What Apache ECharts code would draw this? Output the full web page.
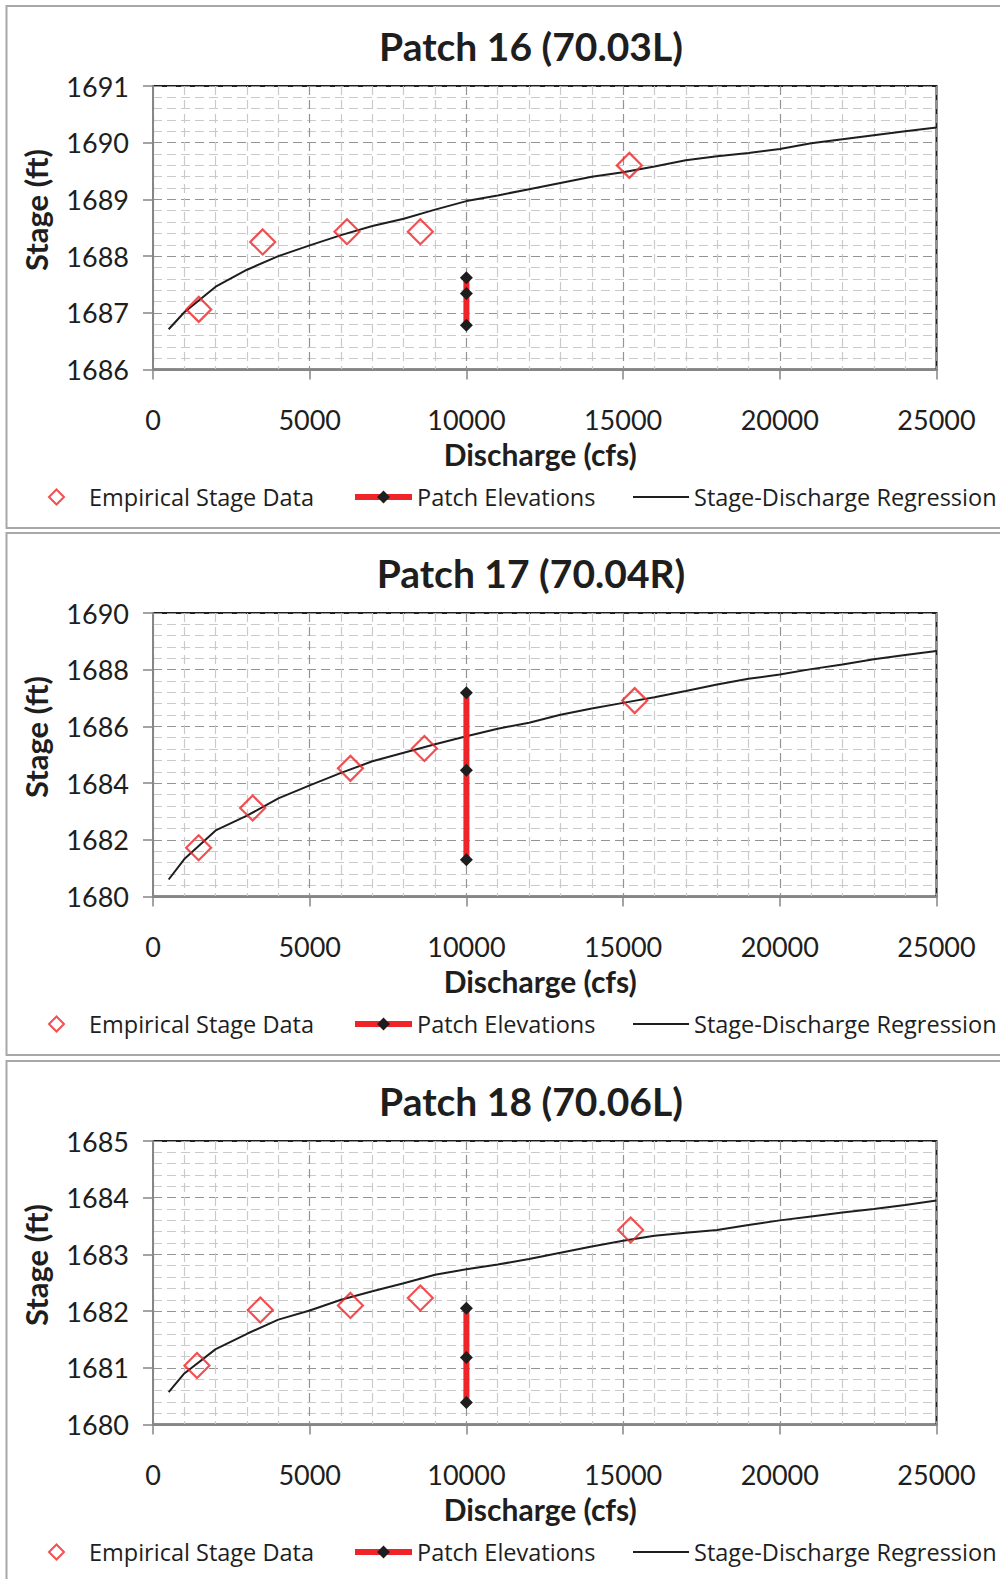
<!DOCTYPE html>
<html>
<head>
<meta charset="utf-8">
<script src="https://cdn.jsdelivr.net/npm/echarts@6/dist/echarts.min.js"></script>
<style>
  html, body { margin: 0; padding: 0; background: #fff; }
  #chart { width: 1000px; height: 1579px; }
</style>
</head>
<body>
<div id="chart"></div>
<script>
// ---------- DATA ----------
const titles = ['Patch 16 (70.03L)', 'Patch 17 (70.04R)', 'Patch 18 (70.06L)'];
const xTicksMin = 0, xTicksMax = 25000, xTickStep = 5000;
const yMins = [1686, 1680, 1680];
const yMaxs = [1691, 1690, 1685];
const ySteps = [1, 2, 1];

const patchX = 10000;

const empX16 = [1460, 3500, 6190, 8530, 15200];
const empY16 = [1687.06, 1688.25, 1688.43, 1688.43, 1689.60];
const patchY16 = [1687.62, 1687.34, 1686.78];

const empX17 = [1456, 3180, 6300, 8660, 15370];
const empY17 = [1681.72, 1683.12, 1684.52, 1685.22, 1686.91];
const patchY17 = [1687.19, 1684.45, 1681.30];

const empX18 = [1404, 3425, 6300, 8530, 15240];
const empY18 = [1681.04, 1682.02, 1682.10, 1682.23, 1683.43];
const patchY18 = [1682.05, 1681.18, 1680.39];

const regX = [500, 1000, 2000, 3000, 4000, 5000, 6000, 7000, 8000, 9000, 10000, 11000, 12000, 13000,
              14000, 15000, 16000, 17000, 18000, 19000, 20000, 21000, 22000, 23000, 24000, 25000];
const regY16 = [1686.71, 1687.01, 1687.46, 1687.76, 1688.00, 1688.19, 1688.37, 1688.53, 1688.66, 1688.82,
                1688.97, 1689.07, 1689.18, 1689.29, 1689.40, 1689.48, 1689.58, 1689.69, 1689.76, 1689.82,
                1689.89, 1689.99, 1690.06, 1690.13, 1690.20, 1690.27];
const regY17 = [1680.60, 1681.32, 1682.33, 1682.85, 1683.46, 1683.92, 1684.36, 1684.77, 1685.07, 1685.37,
                1685.65, 1685.92, 1686.13, 1686.41, 1686.63, 1686.83, 1687.03, 1687.25, 1687.48, 1687.68,
                1687.83, 1688.02, 1688.18, 1688.37, 1688.52, 1688.66];
const regY18 = [1680.57, 1680.90, 1681.33, 1681.60, 1681.85, 1682.01, 1682.20, 1682.35, 1682.49, 1682.64,
                1682.74, 1682.82, 1682.92, 1683.03, 1683.14, 1683.24, 1683.33, 1683.38, 1683.43, 1683.52,
                1683.60, 1683.67, 1683.74, 1683.80, 1683.87, 1683.95];

const seriesNames = ['Empirical Stage Data', 'Patch Elevations', 'Stage-Discharge Regression'];
const xName = 'Discharge (cfs)';
const yName = 'Stage (ft)';

// ---------- BUILD ----------
const empX = [empX16, empX17, empX18];
const empY = [empY16, empY17, empY18];
const patchY = [patchY16, patchY17, patchY18];
const regY = [regY16, regY17, regY18];

const RED = '#ee2428';
const DARK = '#1e1e1e';
const FONT = 'Lato, "Noto Sans", sans-serif';
const LFONT = '"Open Sans", Lato, sans-serif';
const offsets = [0, 527, 1055];
const plain = v => String(v);

const grids = [], xAxes = [], yAxes = [], series = [], titleOpts = [], legends = [], graphics = [];

offsets.forEach((o, i) => {
  graphics.push({
    type: 'rect', silent: true, z: -10,
    shape: { x: 6.5, y: 6 + o, width: 1010, height: 522 },
    style: { fill: '#fff', stroke: '#a8a8a8', lineWidth: 2 }
  });
  graphics.push({
    type: 'text', silent: true,
    x: 36, y: 210 + o, rotation: Math.PI / 2,
    style: { text: yName, align: 'center', verticalAlign: 'middle',
             font: 'bold 31px ' + FONT, fill: DARK }
  });
  titleOpts.push({
    text: titles[i], left: 531, top: 46 + o, textAlign: 'center', textVerticalAlign: 'middle',
    padding: 0,
    textStyle: { fontFamily: FONT, fontWeight: 'bold', fontSize: 39, color: DARK }
  });
  grids.push({ left: 153, top: 86 + o, width: 783.5, height: 283.5,
               show: true, borderColor: DARK, borderWidth: 2, backgroundColor: 'transparent' });
  xAxes.push({
    type: 'value', gridIndex: i, min: xTicksMin, max: xTicksMax, interval: xTickStep,
    name: xName, nameLocation: 'middle', nameGap: 69,
    nameTextStyle: { fontFamily: FONT, fontWeight: 'bold', fontSize: 30, color: DARK, padding: [0, 9, 0, 0] },
    axisLine: { onZero: false, lineStyle: { color: '#868686', width: 2 } },
    axisTick: { show: true, length: 10, lineStyle: { color: '#868686', width: 1.5 } },
    axisLabel: { margin: 36, fontFamily: FONT, fontSize: 27, color: DARK, formatter: plain },
    splitLine: { show: true, lineStyle: { color: '#949494', width: 1.2, type: [9, 5] } },
    minorTick: { show: false, splitNumber: 5 },
    minorSplitLine: { show: true, lineStyle: { color: '#cacaca', width: 1.2, type: [9, 5] } }
  });
  yAxes.push({
    type: 'value', gridIndex: i, min: yMins[i], max: yMaxs[i], interval: ySteps[i],
    axisLine: { show: true, onZero: false, lineStyle: { color: '#868686', width: 2 } },
    axisTick: { show: true, length: 10, lineStyle: { color: '#868686', width: 1.5 } },
    axisLabel: { margin: 24, fontFamily: FONT, fontSize: 27, color: DARK, formatter: plain },
    splitLine: { show: true, lineStyle: { color: '#949494', width: 1.2, type: [9, 5] } },
    minorTick: { show: false, splitNumber: 5 },
    minorSplitLine: { show: true, lineStyle: { color: '#cacaca', width: 1.2, type: [9, 5] } }
  });
  series.push({
    name: seriesNames[2], type: 'line', xAxisIndex: i, yAxisIndex: i,
    data: regX.map((x, k) => [x, regY[i][k]]),
    symbol: 'none', smooth: false, z: 3,
    lineStyle: { color: DARK, width: 2 }, itemStyle: { color: DARK }
  });
  series.push({
    name: seriesNames[0], type: 'scatter', xAxisIndex: i, yAxisIndex: i,
    data: empX[i].map((x, k) => [x, empY[i][k]]),
    symbol: 'diamond', symbolSize: 25, z: 4,
    itemStyle: { color: 'rgba(255,255,255,0)', borderColor: RED, borderWidth: 2.2 }
  });
  series.push({
    name: seriesNames[1], type: 'line', xAxisIndex: i, yAxisIndex: i,
    data: patchY[i].map(y => [patchX, y]),
    symbol: 'diamond', symbolSize: 13, showAllSymbol: true, z: 5,
    lineStyle: { color: RED, width: 6 }, itemStyle: { color: DARK }
  });
  const ly = 497 + o;
  const ts = { fontFamily: LFONT, fontSize: 23.5, lineHeight: 24, color: DARK };
  legends.push({
    data: [seriesNames[0]], left: 48, top: ly - 12, itemWidth: 15, itemHeight: 15, padding: 0,
    selectedMode: false, textStyle: Object.assign({}, ts, { padding: [0, 0, 0, 20] }),
    itemStyle: { color: 'rgba(255,255,255,0)', borderColor: RED, borderWidth: 2 }
  });
  legends.push({
    data: [seriesNames[1]], left: 352, top: ly - 12, itemWidth: 57, itemHeight: 16, padding: 0,
    selectedMode: false, textStyle: ts,
    lineStyle: { color: RED, width: 6 }, itemStyle: { color: DARK }
  });
  legends.push({
    data: [{ name: seriesNames[2], icon: 'rect' }], left: 633, top: ly - 12, itemWidth: 56, itemHeight: 2,
    padding: 0, selectedMode: false, textStyle: ts, itemStyle: { color: DARK }
  });
});

const chart = echarts.init(document.getElementById('chart'), null, { renderer: 'svg' });
chart.setOption({
  backgroundColor: '#fff',
  animation: false,
  title: titleOpts,
  grid: grids,
  xAxis: xAxes,
  yAxis: yAxes,
  legend: legends,
  series: series,
  graphic: graphics
});
</script>
</body>
</html>
